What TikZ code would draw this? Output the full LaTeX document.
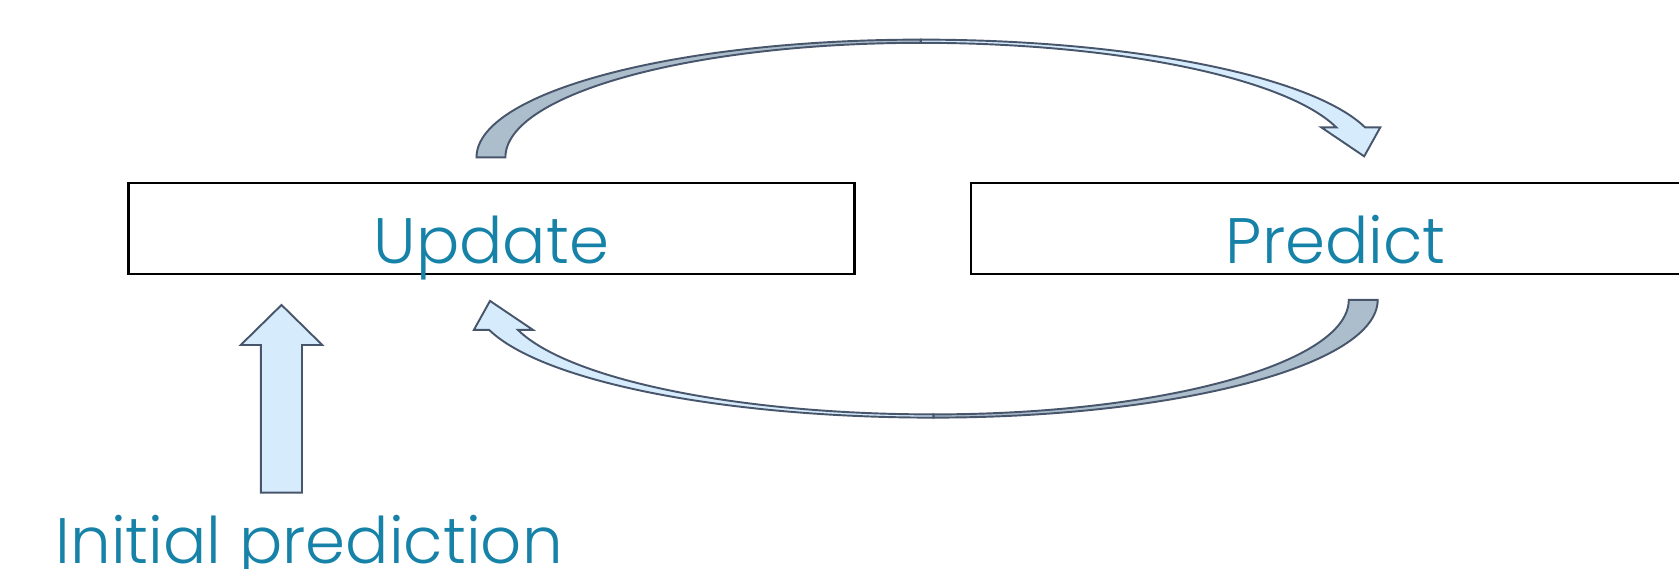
\documentclass[tikz,border=0pt]{standalone}
\usepackage{fontspec}
\IfFontExistsTF{Poppins Light}{\setmainfont{Poppins Light}}{\setmainfont{Poppins}}
\definecolor{txt}{RGB}{22,130,168}
\definecolor{edge}{RGB}{72,86,108}
\definecolor{lightfill}{RGB}{214,235,252}
\definecolor{darkfill}{RGB}{172,189,204}
\def\myCurvedArrow{%
  \draw[blockarrow,fill=darkfill] (445,384)
    arc[start angle=180,end angle=90,x radius=415pt,y radius=110pt]
    -- (860,491)
    arc[start angle=90,end angle=180,x radius=388pt,y radius=107pt] -- cycle;
  \draw[blockarrow,fill=lightfill] (860,494)
    arc[start angle=90,end angle=14.75,x radius=429pt,y radius=110pt]
    -- (1289,412) -- (1274,385) -- (1234,412) -- (1248,412)
    arc[start angle=15.17,end angle=90,x radius=402pt,y radius=107pt] -- cycle;
}
\begin{document}
\begin{tikzpicture}[x=1pt,y=1pt,
  box/.style={draw=black,line width=2pt,minimum width=678pt,minimum height=85pt,inner sep=0pt},
  lbl/.style={text=txt,font=\fontsize{60}{60}\selectfont,anchor=base,inner sep=0pt},
  blockarrow/.style={draw=edge,line width=1.8pt,line join=miter}]
\useasboundingbox (0,0) rectangle (1568,531);
\clip (0,0) rectangle (1568,531);
\node[box] (update) at (459,317.5) {};
\node[box] (predict) at (1246,317.5) {};
\node[lbl] (updatetxt) at (459,285) {Update};
\node[lbl] (predicttxt) at (1247.5,285) {Predict};
\node[lbl,anchor=base west] (init) at (52,5) {Initial prediction};
% initial up arrow
\draw[blockarrow,fill=lightfill] (243.7,71) -- (243.7,208.8) -- (224.8,208.8)
  -- (262.9,246.2) -- (301,208.8) -- (282,208.8) -- (282,71) -- cycle;
% top curved arrow (Update -> Predict)
\begin{scope}
\myCurvedArrow
\end{scope}
% bottom curved arrow (Predict -> Update)
\begin{scope}[rotate around={180:(865.8,317.5)}]
\myCurvedArrow
\end{scope}
\end{tikzpicture}
\end{document}
